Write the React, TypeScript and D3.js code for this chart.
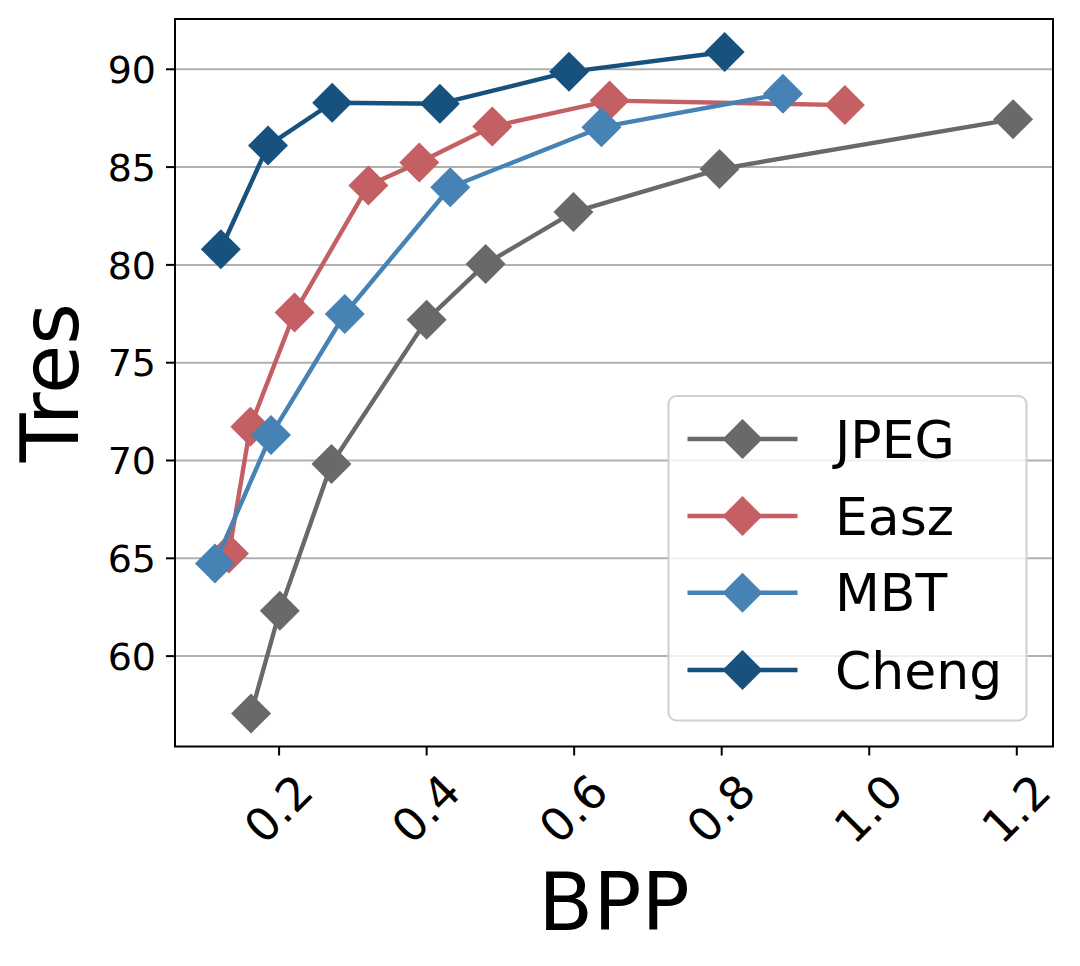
import React, { useRef, useEffect } from 'react';
import * as d3 from 'd3';

// values
const seriesNames = ['JPEG', 'Easz', 'MBT', 'Cheng'];
const seriesColors = ['#696969', '#c45f63', '#4682b4', '#16527d'];

const jpegBpp = [0.162, 0.201, 0.271, 0.400, 0.480, 0.599, 0.797, 1.195];
const jpegTres = [57.07, 62.32, 69.82, 77.19, 80.05, 82.70, 84.90, 87.45];

const easzBpp = [0.132, 0.161, 0.221, 0.321, 0.390, 0.489, 0.648, 0.967];
const easzTres = [65.25, 71.73, 77.56, 84.06, 85.23, 87.07, 88.40, 88.17];

const mbtBpp = [0.113, 0.189, 0.289, 0.432, 0.637, 0.883];
const mbtTres = [64.74, 71.30, 77.49, 83.97, 87.04, 88.75];

const chengBpp = [0.121, 0.185, 0.272, 0.418, 0.593, 0.804];
const chengTres = [80.80, 86.10, 88.29, 88.24, 89.87, 90.88];

const xTicks = [0.2, 0.4, 0.6, 0.8, 1.0, 1.2];
const yTicks = [60, 65, 70, 75, 80, 85, 90];

function Chart() {
  const canvas = useRef<HTMLDivElement>(null);

  useEffect(() => {
    const width = 1080;
    const height = 966;
    const plot = { left: 175, right: 1053, top: 19, bottom: 746.5 };

    d3.select(canvas.current).select('svg').remove();
    const svg = d3.select(canvas.current)
      .append('svg')
      .attr('width', width)
      .attr('height', height)
      .style('display', 'block')
      .style('font-family', '"DejaVu Sans", sans-serif');

    svg.append('rect').attr('width', width).attr('height', height).attr('fill', 'white');

    const allX = [...jpegBpp, ...easzBpp, ...mbtBpp, ...chengBpp];
    const allY = [...jpegTres, ...easzTres, ...mbtTres, ...chengTres];
    const [x0, x1] = d3.extent(allX) as [number, number];
    const [y0, y1] = d3.extent(allY) as [number, number];
    const mx = (x1 - x0) * 0.05;
    const my = (y1 - y0) * 0.05;

    const x = d3.scaleLinear().domain([x0 - mx, x1 + mx]).range([plot.left, plot.right]);
    const y = d3.scaleLinear().domain([y0 - my, y1 + my]).range([plot.bottom, plot.top]);

    // grid
    svg.append('g')
      .selectAll('line')
      .data(yTicks)
      .enter()
      .append('line')
      .attr('x1', plot.left).attr('x2', plot.right)
      .attr('y1', (d) => y(d)).attr('y2', (d) => y(d))
      .attr('stroke', '#b0b0b0')
      .attr('stroke-width', 2);

    const series = [
      { xs: jpegBpp, ys: jpegTres },
      { xs: easzBpp, ys: easzTres },
      { xs: mbtBpp, ys: mbtTres },
      { xs: chengBpp, ys: chengTres },
    ];

    const line = d3.line<[number, number]>()
      .x((d) => x(d[0]))
      .y((d) => y(d[1]));

    const diamond = (cx: number, cy: number, r: number) =>
      `M${cx},${cy - r}L${cx + r},${cy}L${cx},${cy + r}L${cx - r},${cy}Z`;

    series.forEach((s, i) => {
      const pts = s.xs.map((v, k) => [v, s.ys[k]] as [number, number]);
      const g = svg.append('g');
      g.append('path')
        .attr('d', line(pts))
        .attr('fill', 'none')
        .attr('stroke', seriesColors[i])
        .attr('stroke-width', 4.4)
        .attr('stroke-linejoin', 'round')
        .attr('stroke-linecap', 'square');
      g.selectAll('path.m')
        .data(pts)
        .enter()
        .append('path')
        .attr('class', 'm')
        .attr('d', (d) => diamond(x(d[0]), y(d[1]), 20))
        .attr('fill', seriesColors[i]);
    });

    // axes frame
    svg.append('rect')
      .attr('x', plot.left).attr('y', plot.top)
      .attr('width', plot.right - plot.left).attr('height', plot.bottom - plot.top)
      .attr('fill', 'none').attr('stroke', 'black').attr('stroke-width', 2);

    // y ticks
    const yt = svg.append('g');
    yTicks.forEach((t) => {
      yt.append('line')
        .attr('x1', plot.left - 9).attr('x2', plot.left)
        .attr('y1', y(t)).attr('y2', y(t))
        .attr('stroke', 'black').attr('stroke-width', 2);
      yt.append('text')
        .attr('x', plot.left - 19)
        .attr('y', y(t))
        .attr('dy', '0.36em')
        .attr('text-anchor', 'end')
        .style('font-size', '38px')
        .text(String(t));
    });

    // x ticks
    const xt = svg.append('g');
    xTicks.forEach((t) => {
      xt.append('line')
        .attr('x1', x(t)).attr('x2', x(t))
        .attr('y1', plot.bottom).attr('y2', plot.bottom + 9)
        .attr('stroke', 'black').attr('stroke-width', 2);
      const cx = x(t) - 1;
      const cy = 808.5;
      xt.append('text')
        .attr('transform', `translate(${cx},${cy}) rotate(-45)`)
        .attr('dy', '0.36em')
        .attr('text-anchor', 'middle')
        .style('font-size', '46px')
        .text(t.toFixed(1));
    });

    // axis titles
    svg.append('text')
      .attr('x', (plot.left + plot.right) / 2)
      .attr('y', 930)
      .attr('text-anchor', 'middle')
      .style('font-size', '80px')
      .text('BPP');

    svg.append('text')
      .attr('transform', `translate(78,${(plot.top + plot.bottom) / 2}) rotate(-90)`)
      .attr('text-anchor', 'middle')
      .style('font-size', '80px')
      .text('Tres');

    // legend
    const lg = svg.append('g');
    lg.append('rect')
      .attr('x', 668.5).attr('y', 396)
      .attr('width', 358).attr('height', 324.5)
      .attr('rx', 8)
      .attr('fill', 'white').attr('fill-opacity', 0.8)
      .attr('stroke', '#d0d0d0').attr('stroke-width', 2);
    const rows = [439, 516, 592.7, 670];
    seriesNames.forEach((name, i) => {
      const ry = rows[i];
      lg.append('line')
        .attr('x1', 687.5).attr('x2', 797.5)
        .attr('y1', ry).attr('y2', ry)
        .attr('stroke', seriesColors[i]).attr('stroke-width', 4.4);
      lg.append('path')
        .attr('d', diamond(742.5, ry, 20))
        .attr('fill', seriesColors[i]);
      lg.append('text')
        .attr('x', 835)
        .attr('y', ry)
        .attr('dy', '0.36em')
        .style('font-size', '52px')
        .text(name);
    });
  }, []);

  return <div ref={canvas} style={{ position: 'absolute', left: 0, top: 0 }}></div>;
}

export default function App() {
  return <Chart />;
}
